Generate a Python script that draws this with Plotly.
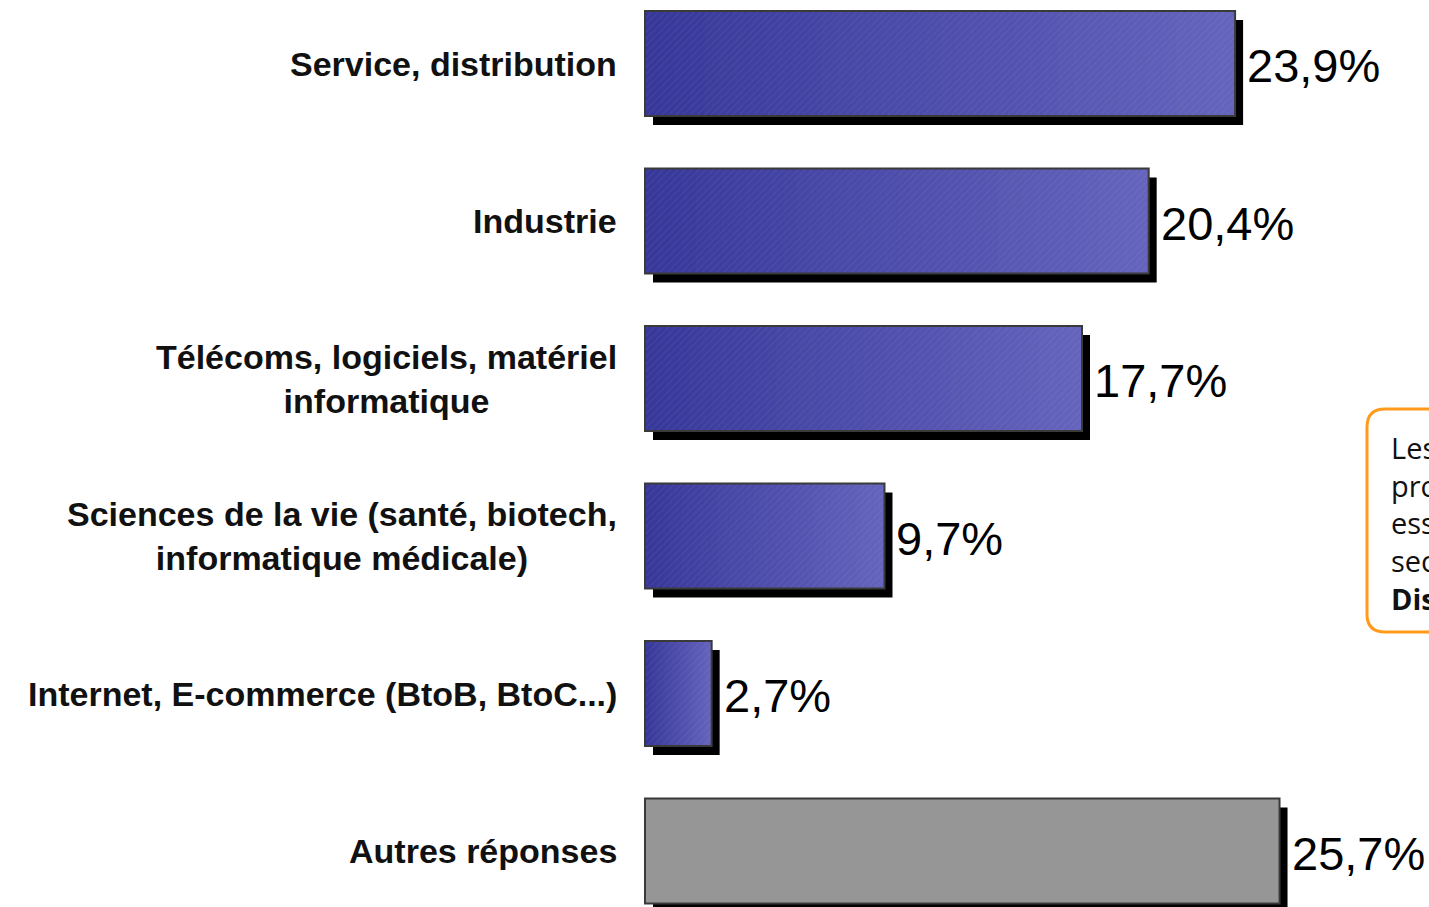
import plotly.graph_objects as go

# ---------------- data ----------------
categories = [
    "Service, distribution",
    "Industrie",
    "Télécoms, logiciels, matériel<br>informatique",
    "Sciences de la vie (santé, biotech,<br>informatique médicale)",
    "Internet, E-commerce (BtoB, BtoC...)",
    "Autres réponses",
]
values = [23.9, 20.4, 17.7, 9.7, 2.7, 25.7]
value_labels = ["23,9%", "20,4%", "17,7%", "9,7%", "2,7%", "25,7%"]
is_other = [False, False, False, False, False, True]
note_lines = ["Les offres", "proviennent", "essentiellement du", "secteur Service,", "<b>Distribution</b>"]

# ---------------- geometry / style ----------------
W, H = 1429, 907
L_MARGIN = 600
ZERO_PX = 645
PX_PER_UNIT = 24.69
PITCH = 157.5
FIRST_CENTER = 63.5
x_min = -(ZERO_PX - L_MARGIN) / PX_PER_UNIT
x_max = (W - ZERO_PX) / PX_PER_UNIT
y_top = -FIRST_CENTER / PITCH
y_bot = y_top + H / PITCH
BAR_W = 0.667
SH_DX = 8 / PX_PER_UNIT
SH_DY = 9 / PITCH

pos = list(range(len(categories)))
blue_pos = [p for p, o in zip(pos, is_other) if not o]
blue_vals = [v for v, o in zip(values, is_other) if not o]
gray_pos = [p for p, o in zip(pos, is_other) if o]
gray_vals = [v for v, o in zip(values, is_other) if o]

C0 = (0x38, 0x38, 0x9a)
C1 = (0x64, 0x64, 0xbc)


def lerp(t):
    return "rgb(%d,%d,%d)" % tuple(round(a + (b - a) * t) for a, b in zip(C0, C1))


fig = go.Figure()

# shadows
fig.add_trace(go.Bar(
    orientation="h", y=pos, x=values, base=SH_DX, width=BAR_W,
    offset=-BAR_W / 2 + SH_DY, marker=dict(color="black", line=dict(width=0)),
    hoverinfo="skip"))

# gradient fill for blue bars
N = 40
for k in range(N):
    fig.add_trace(go.Bar(
        orientation="h", y=blue_pos,
        x=[v * (N - k) / N for v in blue_vals],
        base=[v * k / N for v in blue_vals],
        width=BAR_W, offset=-BAR_W / 2,
        marker=dict(color=lerp(k / (N - 1)), line=dict(width=0)),
        hoverinfo="skip"))

# subtle texture on blue bars
fig.add_trace(go.Bar(
    orientation="h", y=blue_pos, x=blue_vals, width=BAR_W, offset=-BAR_W / 2,
    marker=dict(color="rgba(0,0,0,0)", line=dict(width=0),
                pattern=dict(shape="/", fgcolor="rgba(210,210,255,0.35)",
                             bgcolor="rgba(0,0,0,0)", size=5, solidity=0.12)),
    hoverinfo="skip"))

# gray bar
fig.add_trace(go.Bar(
    orientation="h", y=gray_pos, x=gray_vals, width=BAR_W, offset=-BAR_W / 2,
    marker=dict(color="#969696", line=dict(width=0)), hoverinfo="skip"))

# outlines
fig.add_trace(go.Bar(
    orientation="h", y=pos, x=values, width=BAR_W, offset=-BAR_W / 2,
    marker=dict(color="rgba(0,0,0,0)", line=dict(color="#3a3a3a", width=2)),
    hoverinfo="skip"))

annotations = []
for p, cat, v, lab in zip(pos, categories, values, value_labels):
    annotations.append(dict(
        x=0, y=p, xref="x", yref="y", text=cat, showarrow=False,
        xanchor="right", yanchor="middle", align="center", xshift=-26,
        font=dict(family="Liberation Sans, Arial", size=34, color="#111111", weight="bold")))
    annotations.append(dict(
        x=v, y=p, xref="x", yref="y", text=lab, showarrow=False,
        xanchor="left", yanchor="middle", xshift=10, yshift=-2,
        font=dict(family="Liberation Sans, Arial", size=47, color="#000000")))


def px_x(px):
    return (px - ZERO_PX) / PX_PER_UNIT


def px_y(py):
    return (py - FIRST_CENTER) / PITCH


# note box (cut off at right edge, as in the source)
bx0, by0, bx1, by1, r = 1367, 409, 1700, 632, 18
path = (
    f"M {px_x(bx0 + r)},{px_y(by0)} L {px_x(bx1)},{px_y(by0)} "
    f"L {px_x(bx1)},{px_y(by1)} L {px_x(bx0 + r)},{px_y(by1)} "
    f"Q {px_x(bx0)},{px_y(by1)} {px_x(bx0)},{px_y(by1 - r)} "
    f"L {px_x(bx0)},{px_y(by0 + r)} "
    f"Q {px_x(bx0)},{px_y(by0)} {px_x(bx0 + r)},{px_y(by0)} Z"
)
shapes = [dict(type="path", path=path, xref="x", yref="y",
               line=dict(color="#FF9A1A", width=3), fillcolor="rgba(255,255,255,1)")]

annotations.append(dict(
    x=px_x(1389), y=px_y(523), xref="x", yref="y", text="<br>".join(note_lines),
    showarrow=False, xanchor="left", yanchor="middle", align="left",
    font=dict(family="Open Sans, Noto Sans", size=29, color="#111111")))

fig.update_layout(
    width=W, height=H, barmode="overlay", showlegend=False,
    margin=dict(l=L_MARGIN, r=0, t=0, b=0),
    paper_bgcolor="white", plot_bgcolor="white",
    xaxis=dict(range=[x_min, x_max], visible=False, fixedrange=True),
    yaxis=dict(range=[y_bot, y_top], visible=False, fixedrange=True),
    shapes=shapes, annotations=annotations,
)

fig.write_html(
    "out.html",
    config={"displayModeBar": False},
    post_script="document.body.style.margin='0';document.body.style.overflow='hidden';",
)
